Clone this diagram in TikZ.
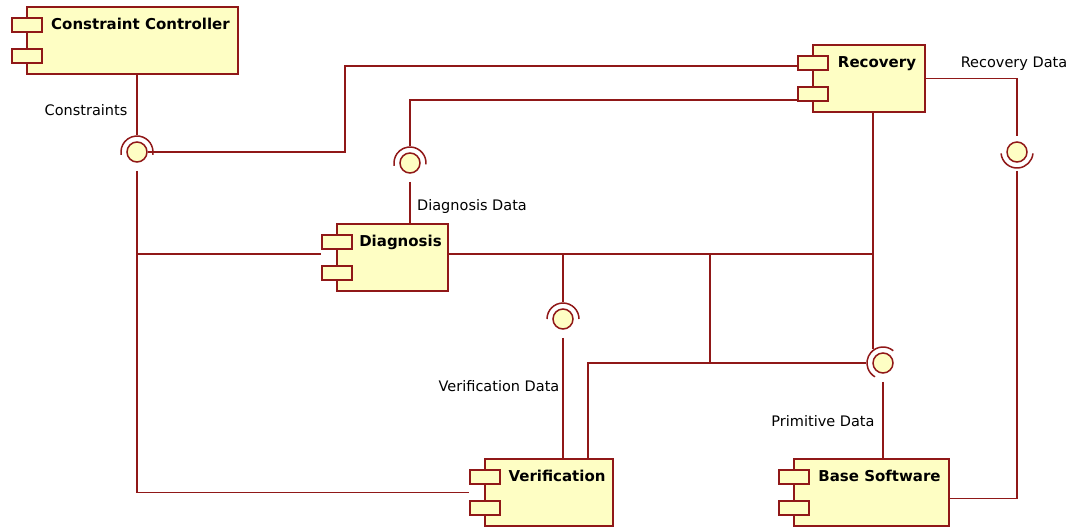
\documentclass[tikz,border=0pt]{standalone}
\usepackage{fontspec}
\setmainfont{DejaVu Sans}
\definecolor{umlred}{HTML}{901818}
\definecolor{umlfill}{HTML}{FEFEC4}
\tikzset{
  comp/.style={rectangle, draw=umlred, fill=umlfill, line width=1.5pt, inner sep=0pt, anchor=north west},
  comptab/.style={comp, minimum width=30pt, minimum height=14pt},
  comptitle/.style={anchor=base, font=\fontsize{15}{18}\selectfont\bfseries},
  iface/.style={circle, draw=umlred, fill=umlfill, line width=1.5pt, minimum size=20pt, inner sep=0pt},
  socket/.style={draw=umlred, line width=1.5pt},
  wire/.style={draw=umlred, line width=1.5pt},
  ifacelabel/.style={anchor=base, font=\fontsize{14.5}{17}\selectfont}
}
% name, left, top, width, height, title
\newcommand\umlcomp[6]{%
  \node[comp, minimum width=#4pt, minimum height=#5pt] (#1) at (#2,#3) {};
  \node[comptab] (#1-t1) at (#2-15,#3-11) {};
  \node[comptab] (#1-t2) at (#2-15,#3-#5+25) {};
  \node[comptitle] (#1-title) at (#2+#4/2+9,#3-23) {#6};
}
\begin{document}
\begin{tikzpicture}[x=1pt, y=1pt]
  \useasboundingbox (0,0) rectangle (1075,-528);

  \umlcomp{cc}{26}{-6}{211}{67}{Constraint Controller}
  \umlcomp{rec}{812}{-44}{112}{67}{Recovery}
  \umlcomp{diag}{336}{-223}{111}{67}{Diagnosis}
  \umlcomp{ver}{484}{-458}{128}{67}{Verification}
  \umlcomp{base}{793}{-458}{155}{67}{Base Software}

  \node[iface] (iconst) at (137,-152) {};
  \draw[socket] (iconst.center) ++(-10:16) arc[start angle=-10, end angle=190, radius=16];
  \node[iface] (idiag) at (410,-163) {};
  \draw[socket] (idiag.center) ++(-5:16) arc[start angle=-5, end angle=190, radius=16];
  \node[iface] (irec) at (1017,-152) {};
  \draw[socket] (irec.center) ++(185:16) arc[start angle=185, end angle=355, radius=16];
  \node[iface] (iver) at (563,-319) {};
  \draw[socket] (iver.center) ++(0:16) arc[start angle=0, end angle=180, radius=16];
  \node[iface] (iprim) at (883,-363) {};
  \draw[socket] (iprim.center) ++(50:16) arc[start angle=50, end angle=240, radius=16];

  \node[ifacelabel] (lconst) at (86,-115)  {Constraints};
  \node[ifacelabel] (ldiag)  at (472,-210) {Diagnosis Data};
  \node[ifacelabel] (lrec)   at (1014,-67) {Recovery Data};
  \node[ifacelabel] (lver)   at (499,-391) {Verification Data};
  \node[ifacelabel] (lprim)  at (823,-426) {Primitive Data};

  \coordinate (bus) at ([xshift=4pt]rec.south);
  \coordinate (split) at (710,-253);

  \draw[wire] (iconst.north |- cc.south) -- ([yshift=6pt]iconst.north);
  \draw[wire] (iconst.east) -- (345,-152) |- ([yshift=-3pt]rec-t1.west);
  \draw[wire] ([yshift=-6pt]rec-t2.west) -| ([yshift=6pt]idiag.north);
  \draw[wire] ([yshift=-8pt]idiag.south) -- (idiag |- diag.north);
  \draw[wire] ([yshift=-8pt]iconst.south) |- (ver.west -| ver-t1.west);
  \draw[wire] ([yshift=3.5pt]diag.west -| iconst) -- ([yshift=3.5pt]diag.west -| diag-t1.west);
  \draw[wire] ([yshift=3.5pt]diag.east) -- ([yshift=3.5pt]diag.east -| bus);
  \draw[wire] (bus) -- ++(0,-236);
  \draw[wire] ([yshift=3.5pt]diag.east -| iver) -- ([yshift=6pt]iver.north);
  \draw[wire] ([yshift=-8pt]iver.south) -- (iver |- ver.north);
  \draw[wire] (split) -- (split |- iprim.west);
  \draw[wire] ([xshift=39pt]ver.north) |- ([xshift=-6pt]iprim.west);
  \draw[wire] ([yshift=-8pt]iprim.south) -- (iprim |- base.north);
  \draw[wire] (rec.east) -| ([yshift=5pt]irec.north);
  \draw[wire] ([yshift=-8pt]irec.south) |- ([yshift=-6pt]base.east);
\end{tikzpicture}
\end{document}
